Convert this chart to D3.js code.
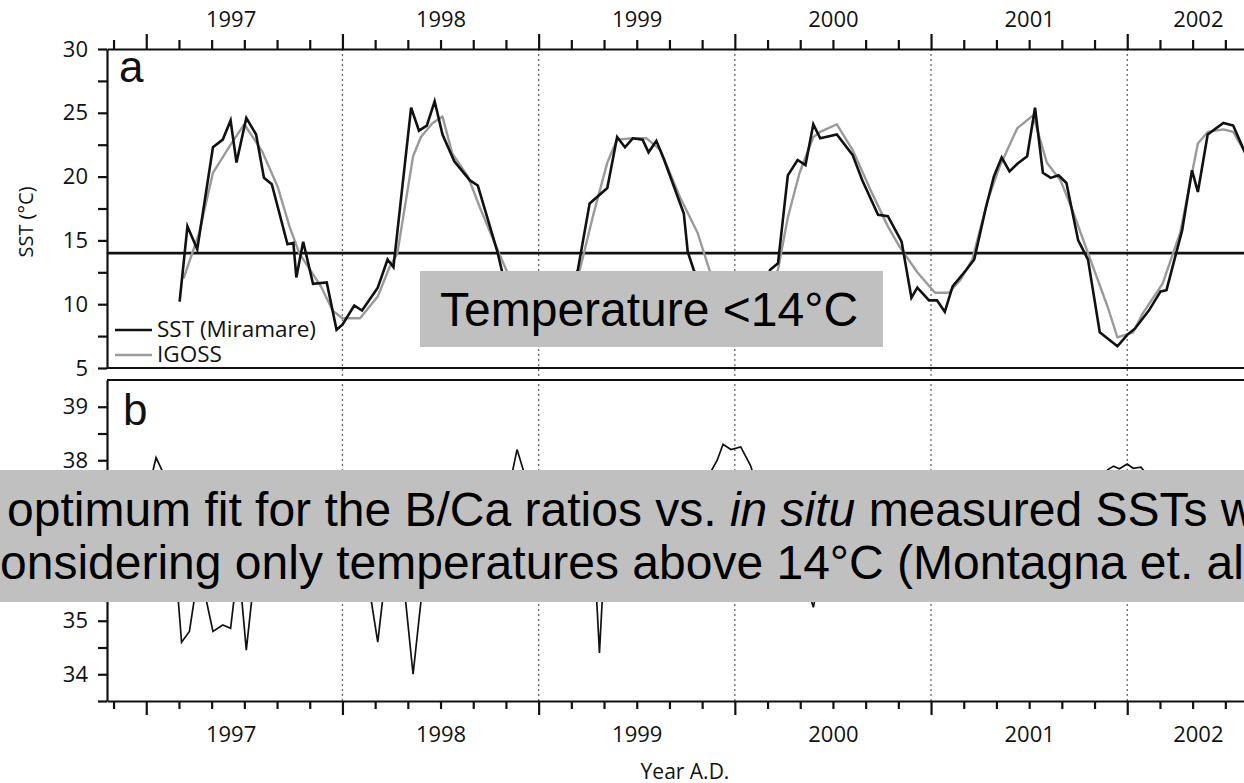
<!DOCTYPE html>
<html>
<head>
<meta charset="utf-8">
<script src="https://cdn.jsdelivr.net/npm/d3@7"></script>
<style>
  html, body { margin: 0; padding: 0; background: #fff; }
  svg { display: block; }
  .tick text { font-family: "Open Sans", sans-serif; fill: #111; }
</style>
</head>
<body>
<svg id="chart" width="1244" height="783"></svg>
<script>
// ---- Data ---------------------------------------------------------------
// Panel a: sea surface temperature, decimal year vs. °C
const sstYear = [1997.17,1997.21,1997.26,1997.34,1997.39,1997.43,1997.46,1997.51,1997.56,1997.60,
  1997.64,1997.72,1997.75,1997.765,1997.80,1997.85,1997.92,1997.97,1998.00,1998.06,
  1998.10,1998.18,1998.23,1998.26,1998.35,1998.39,1998.43,1998.47,1998.51,1998.57,
  1998.65,1998.69,1998.79,1998.83,1998.91,1998.96,1999.03,1999.10,1999.15,1999.20,
  1999.26,1999.35,1999.40,1999.44,1999.48,1999.53,1999.56,1999.60,1999.64,1999.74,
  1999.76,1999.79,1999.85,1999.92,2000.00,2000.08,2000.14,2000.18,2000.22,2000.27,
  2000.32,2000.36,2000.40,2000.435,2000.52,2000.60,2000.65,2000.73,2000.78,2000.85,
  2000.90,2000.93,2000.99,2001.03,2001.07,2001.11,2001.18,2001.22,2001.28,2001.32,
  2001.36,2001.40,2001.44,2001.49,2001.53,2001.57,2001.61,2001.65,2001.69,2001.75,
  2001.80,2001.86,2001.95,2002.00,2002.04,2002.11,2002.17,2002.20,2002.28,2002.33,
  2002.36,2002.41,2002.49,2002.54,2002.60,2002.64];
const sstValue = [10.2,16.1,14.3,22.3,22.9,24.4,21.1,24.6,23.3,19.9,
  19.4,14.7,14.8,12.1,14.9,11.6,11.7,8.0,8.4,9.9,
  9.5,11.3,13.5,12.9,25.4,23.6,24.0,25.9,23.3,21.2,
  19.7,19.3,14.1,11.5,10.5,9.5,9.0,9.6,11.0,12.7,
  17.9,19.1,23.1,22.3,23.0,22.9,21.9,22.8,21.3,17.1,
  14.1,12.7,10.8,9.6,9.0,9.4,11.0,12.7,13.2,20.1,
  21.3,20.9,24.1,23.0,23.3,21.7,19.7,17.0,16.9,14.9,
  10.5,11.3,10.3,10.3,9.4,11.4,12.7,13.5,17.6,20.0,
  21.5,20.4,21.0,21.6,25.4,20.3,19.9,20.1,19.5,15.0,
  13.5,7.8,6.7,7.6,8.1,9.5,11.0,11.1,15.8,20.5,
  18.8,23.3,24.2,24.0,21.9,19.5];

// Panel a: IGOSS sea surface temperature
const igossYear = [1997.19,1997.27,1997.34,1997.43,1997.50,1997.59,1997.67,1997.73,1997.78,1997.89,
  1997.95,1998.00,1998.09,1998.18,1998.24,1998.28,1998.36,1998.40,1998.46,1998.51,
  1998.56,1998.64,1998.70,1998.77,1998.84,1998.91,1999.01,1999.09,1999.16,1999.21,
  1999.28,1999.35,1999.40,1999.48,1999.55,1999.62,1999.72,1999.81,1999.87,1999.95,
  2000.04,2000.11,2000.18,2000.22,2000.27,2000.33,2000.40,2000.435,2000.52,2000.60,
  2000.69,2000.78,2000.84,2000.93,2001.02,2001.09,2001.15,2001.21,2001.29,2001.35,
  2001.44,2001.52,2001.59,2001.66,2001.72,2001.80,2001.90,2001.95,2002.03,2002.08,
  2002.18,2002.27,2002.36,2002.41,2002.49,2002.54,2002.60,2002.65];
const igossValue = [12.0,15.6,20.3,22.5,24.1,22.0,19.2,16.1,14.0,11.4,
  9.5,8.9,8.9,10.6,12.9,14.0,21.6,23.1,24.2,24.7,
  21.8,20.0,17.6,15.0,12.5,10.5,9.2,9.5,11.0,12.7,
  17.1,21.1,22.9,23.0,23.0,22.1,18.4,15.6,12.7,10.6,
  9.6,10.0,11.6,12.7,16.8,20.3,23.1,23.5,24.1,22.1,
  19.0,16.1,14.5,12.5,10.9,10.9,11.9,13.5,18.2,20.8,
  23.8,24.8,21.1,19.7,17.4,14.0,9.8,7.4,7.8,9.3,
  11.6,15.6,22.6,23.5,23.7,23.5,21.9,19.5];

// Panel b: salinity
const salYear = [1996.97,1997.05,1997.12,1997.15,1997.18,1997.22,1997.27,1997.34,1997.39,1997.43,
  1997.47,1997.51,1997.57,1997.63,1997.71,1997.78,1997.86,1997.94,1998.01,1998.08,
  1998.12,1998.18,1998.23,1998.28,1998.31,1998.36,1998.41,1998.47,1998.55,1998.63,
  1998.70,1998.78,1998.85,1998.89,1998.94,1999.01,1999.08,1999.16,1999.24,1999.29,
  1999.31,1999.33,1999.39,1999.47,1999.54,1999.62,1999.70,1999.77,1999.85,1999.91,
  1999.94,1999.98,2000.03,2000.08,2000.14,2000.21,2000.28,2000.35,2000.38,2000.40,
  2000.42,2000.47,2000.53,2000.59,2000.66,2000.74,2000.82,2000.89,2000.97,2001.05,
  2001.12,2001.20,2001.28,2001.35,2001.43,2001.51,2001.58,2001.66,2001.74,2001.81,
  2001.86,2001.90,2001.93,2001.96,2002.00,2002.03,2002.07,2002.13,2002.19,2002.27,
  2002.35,2002.42,2002.50,2002.58,2002.65];
const salValue = [36.8,38.05,37.5,36.0,34.6,34.8,36.0,34.8,34.92,34.86,
  36.1,34.45,36.5,37.2,36.6,37.3,36.8,37.1,36.4,36.9,
  36.0,34.6,36.2,36.6,35.8,34.0,35.7,36.5,37.0,36.6,
  37.2,36.9,37.5,38.2,37.6,36.8,37.1,36.5,36.9,35.8,
  34.4,35.8,36.6,37.0,36.5,37.0,36.8,37.3,37.6,38.0,
  38.3,38.2,38.25,37.9,37.2,36.7,37.0,36.2,35.5,35.25,
  35.6,36.6,37.3,37.0,36.8,37.2,36.5,37.0,36.3,36.8,
  37.2,36.6,37.0,37.4,36.9,37.3,36.7,37.1,36.5,37.2,
  37.6,37.82,37.89,37.84,37.93,37.85,37.87,37.6,37.0,36.6,
  37.1,36.8,37.2,36.9,37.0];

// Axis ticks and labels
const yearBounds = [1997, 1998, 1999, 2000, 2001, 2002];
const dividerYears = [1998, 1999, 2000, 2001, 2002];
const minorMonths = [1996.8333,
  1997.1667,1997.3333,1997.5,1997.6667,1997.8333,
  1998.1667,1998.3333,1998.5,1998.6667,1998.8333,
  1999.1667,1999.3333,1999.5,1999.6667,1999.8333,
  2000.1667,2000.3333,2000.5,2000.6667,2000.8333,
  2001.1667,2001.3333,2001.5,2001.6667,2001.8333,
  2002.1667,2002.3333,2002.5,2002.6667,2002.8333];
const yearLabels = ["1997", "1998", "1999", "2000", "2001", "2002"];
const yearLabelAt = [1997.43, 1998.5, 1999.5, 2000.5, 2001.5, 2002.36];
const sstTicks = [5, 10, 15, 20, 25, 30];
const sstMinor = [7.5, 12.5, 17.5, 22.5, 27.5];
const salTicks = [34, 35, 36, 37, 38, 39];
const salMinor = [33.5, 34.5, 35.5, 36.5, 37.5, 38.5];
const threshold = 14;

// ---- Layout -------------------------------------------------------------
const svg = d3.select("#chart");
const x = d3.scaleLinear().domain([1996.8, 2003.0]).range([107, 107 + 6.2 * 196.2]);
const yA = d3.scaleLinear().domain([5, 30]).range([368, 49]);
const yB = d3.scaleLinear().domain([33.5, 39.5]).range([701, 380]);
const [x0, x1] = x.range();
const axisW = 2.2;
const numFont = 22;
const intFmt = d3.format("d");

// dotted year dividers through both panels
svg.append("g").selectAll("line").data(dividerYears).join("line")
  .attr("x1", d => x(d)).attr("x2", d => x(d))
  .attr("y1", yA(30)).attr("y2", yB(33.5))
  .attr("stroke", "#666").attr("stroke-width", 1.3)
  .attr("stroke-dasharray", "2,3");

// helper to style an axis group
function styleAxis(g, fs) {
  g.selectAll(".domain").attr("stroke", "#111").attr("stroke-width", axisW);
  g.selectAll(".tick line").attr("stroke", "#111").attr("stroke-width", axisW);
  g.selectAll(".tick text").attr("font-size", fs);
}

// top time axis
const topAxis = svg.append("g").attr("transform", `translate(0,${yA(30)})`);
topAxis.append("g").call(d3.axisTop(x).tickValues(minorMonths).tickSize(9).tickSizeOuter(0).tickFormat(""))
  .call(g => styleAxis(g));
topAxis.append("g").call(d3.axisTop(x).tickValues(yearBounds).tickSize(15).tickFormat(""))
  .call(g => g.select(".domain").remove()).call(g => styleAxis(g));
topAxis.append("g").call(d3.axisTop(x).tickValues(yearLabelAt).tickSize(0).tickPadding(22)
    .tickFormat((d, i) => yearLabels[i]))
  .call(g => g.select(".domain").remove()).call(g => styleAxis(g, numFont));

// bottom time axis
const bottomAxis = svg.append("g").attr("transform", `translate(0,${yB(33.5)})`);
bottomAxis.append("g").call(d3.axisBottom(x).tickValues(minorMonths).tickSize(8).tickSizeOuter(0).tickFormat(""))
  .call(g => styleAxis(g));
bottomAxis.append("g").call(d3.axisBottom(x).tickValues(yearBounds).tickSize(14).tickFormat(""))
  .call(g => g.select(".domain").remove()).call(g => styleAxis(g));
bottomAxis.append("g").call(d3.axisBottom(x).tickValues(yearLabelAt).tickSize(0).tickPadding(25)
    .tickFormat((d, i) => yearLabels[i]))
  .call(g => g.select(".domain").remove()).call(g => styleAxis(g, numFont));

// panel separators
svg.append("line").attr("x1", x0).attr("x2", x1).attr("y1", yA(5)).attr("y2", yA(5))
  .attr("stroke", "#111").attr("stroke-width", axisW);
svg.append("line").attr("x1", x0).attr("x2", x1).attr("y1", yB(39.5)).attr("y2", yB(39.5))
  .attr("stroke", "#111").attr("stroke-width", axisW);

// left axes
const leftA = svg.append("g").attr("transform", `translate(${x0},0)`);
leftA.append("g").call(d3.axisLeft(yA).tickValues(sstTicks).tickSize(9).tickSizeOuter(0)
    .tickPadding(10).tickFormat(intFmt))
  .call(g => styleAxis(g, numFont));
leftA.append("g").call(d3.axisLeft(yA).tickValues(sstMinor).tickSize(9).tickFormat(""))
  .call(g => g.select(".domain").remove()).call(g => styleAxis(g));

const leftB = svg.append("g").attr("transform", `translate(${x0},0)`);
leftB.append("g").call(d3.axisLeft(yB).tickValues(salTicks).tickSize(9).tickSizeOuter(0)
    .tickPadding(10).tickFormat(intFmt))
  .call(g => styleAxis(g, numFont));
leftB.append("g").call(d3.axisLeft(yB).tickValues(salMinor).tickSize(9).tickFormat(""))
  .call(g => g.select(".domain").remove()).call(g => styleAxis(g));

// 14 °C threshold
svg.append("line").attr("x1", x0).attr("x2", x1)
  .attr("y1", yA(threshold)).attr("y2", yA(threshold))
  .attr("stroke", "#111").attr("stroke-width", 2.6);

// series
const lineA = d3.line().x(d => x(d[0])).y(d => yA(d[1]));
const lineB = d3.line().x(d => x(d[0])).y(d => yB(d[1]));

svg.append("path").datum(d3.zip(igossYear, igossValue)).attr("d", lineA)
  .attr("fill", "none").attr("stroke", "#9a9a9a").attr("stroke-width", 2.4)
  .attr("stroke-linejoin", "round");
svg.append("path").datum(d3.zip(sstYear, sstValue)).attr("d", lineA)
  .attr("fill", "none").attr("stroke", "#111").attr("stroke-width", 2.6)
  .attr("stroke-linejoin", "miter");
svg.append("path").datum(d3.zip(salYear, salValue)).attr("d", lineB)
  .attr("fill", "none").attr("stroke", "#111").attr("stroke-width", 1.7);

// panel letters
svg.append("text").attr("x", 119).attr("y", 82).text("a")
  .attr("font-family", "Liberation Sans, Arial, sans-serif").attr("font-size", 44).attr("fill", "#111");
svg.append("text").attr("x", 123).attr("y", 425).text("b")
  .attr("font-family", "Liberation Sans, Arial, sans-serif").attr("font-size", 44).attr("fill", "#111");

// legend
const legend = svg.append("g").attr("font-family", "Open Sans, sans-serif").attr("font-size", 22.5).attr("fill", "#111");
[["SST (Miramare)", "#111", 330], ["IGOSS", "#9a9a9a", 355]].forEach(([name, col, ly]) => {
  legend.append("line").attr("x1", 115).attr("x2", 152).attr("y1", ly).attr("y2", ly)
    .attr("stroke", col).attr("stroke-width", 2.4);
  legend.append("text").attr("x", 157).attr("y", ly + 7).text(name);
});

// axis titles
svg.append("text").attr("transform", "translate(33,222) rotate(-90)")
  .attr("text-anchor", "middle").attr("font-family", "Open Sans, sans-serif")
  .attr("font-size", 20).attr("fill", "#111").text("SST (°C)");
svg.append("text").attr("x", 685).attr("y", 779).attr("text-anchor", "middle")
  .attr("font-family", "Open Sans, sans-serif").attr("font-size", 21).attr("fill", "#111")
  .text("Year A.D.");

// annotation boxes
const note = svg.append("g").attr("font-family", "Liberation Sans, Arial, sans-serif")
  .attr("font-size", 48).attr("fill", "#000");
note.append("rect").attr("x", 420).attr("y", 271).attr("width", 463).attr("height", 76).attr("fill", "#c0c0c0");
note.append("text").attr("x", 440).attr("y", 326).text("Temperature <14°C");

note.append("rect").attr("x", 0).attr("y", 470).attr("width", 1244).attr("height", 132).attr("fill", "#c0c0c0");
const l1 = note.append("text").attr("x", 7).attr("y", 526);
l1.append("tspan").text("optimum fit for the B/Ca ratios vs. ");
l1.append("tspan").attr("font-style", "italic").text("in situ");
l1.append("tspan").text(" measured SSTs was");
note.append("text").attr("x", -24).attr("y", 579)
  .text("considering only temperatures above 14°C (Montagna et. al. 2007)");
</script>
</body>
</html>
